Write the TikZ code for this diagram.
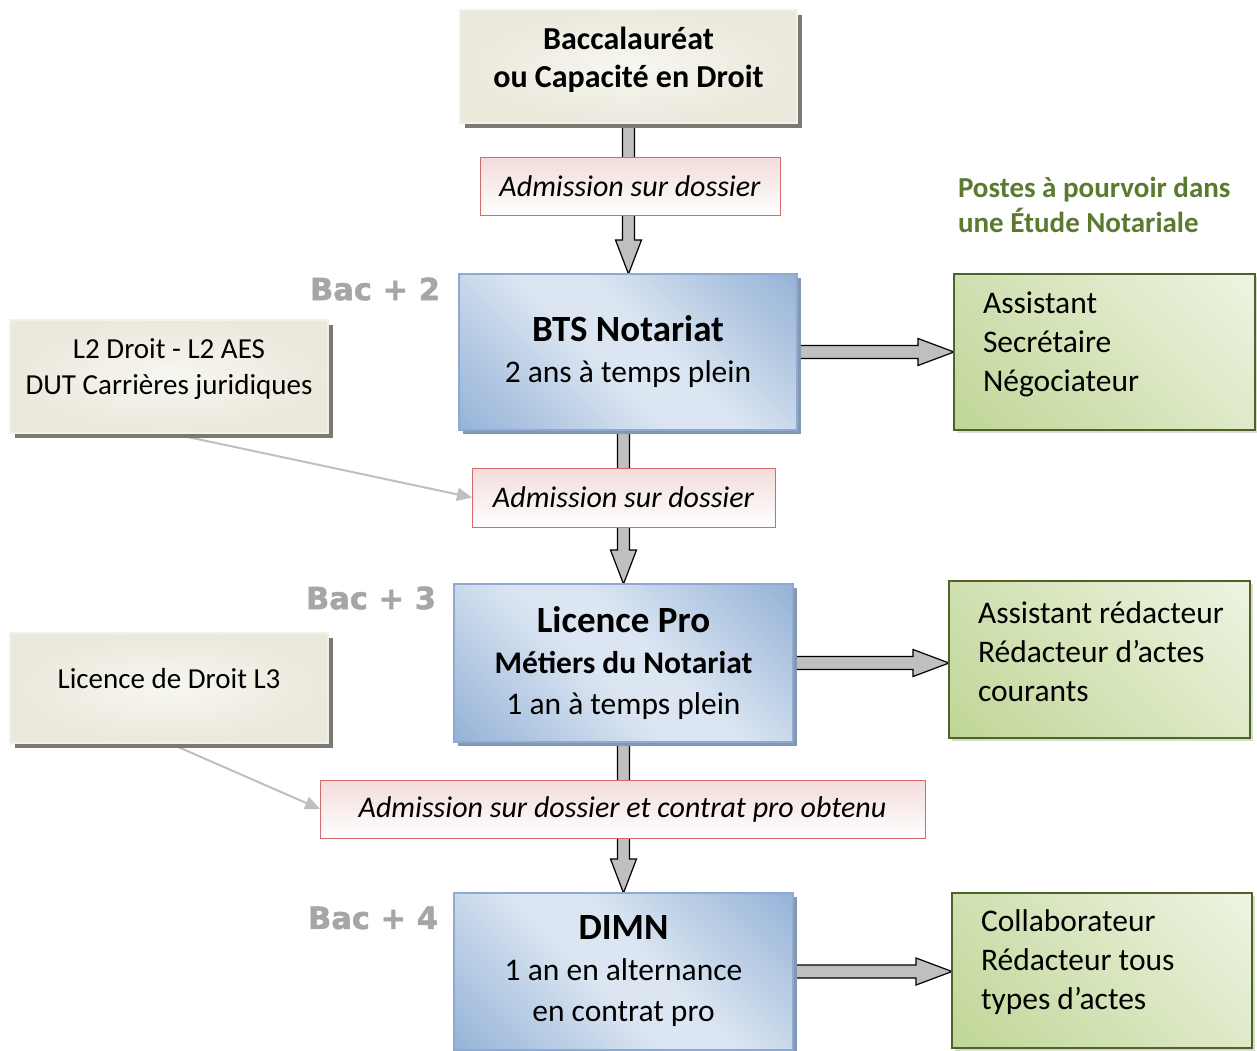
\documentclass[tikz,border=0pt]{standalone}
\usepackage{fontspec}
\setmainfont{Carlito}
\newfontfamily\bacfont[BoldFeatures={FakeBold=1.6}]{DejaVu Sans}
\usetikzlibrary{arrows.meta,calc,shadows,backgrounds}

\definecolor{beigelt}{HTML}{F7F6F0}
\definecolor{beigedk}{HTML}{EBE9DC}
\definecolor{beigeline}{HTML}{F3F2EA}
\definecolor{beigeshadow}{HTML}{7A7A72}
\definecolor{bluelt}{HTML}{DCE6F2}
\definecolor{bluedk}{HTML}{95B3D7}
\definecolor{blueline}{HTML}{8EAAD4}
\definecolor{blueshadow}{HTML}{8497B0}
\definecolor{greenlt}{HTML}{EEF4E2}
\definecolor{greendk}{HTML}{C0D697}
\definecolor{greenline}{HTML}{4F6228}
\definecolor{greenshadow}{HTML}{D9DCD0}
\definecolor{redlt}{HTML}{F2DCDB}
\definecolor{redline}{HTML}{D46A6A}
\definecolor{bacgray}{HTML}{A6A6A6}
\definecolor{postgreen}{HTML}{5B7A2F}
\definecolor{arrowgray}{HTML}{BFBFBF}

\pgfdeclarehorizontalshading{bluediag}{100bp}{color(0bp)=(bluedk); color(15bp)=(bluedk); color(45bp)=(bluelt); color(55bp)=(bluelt); color(85bp)=(bluedk); color(100bp)=(bluedk)}
\pgfdeclarehorizontalshading{greendiag}{100bp}{color(0bp)=(greendk); color(15bp)=(greendk); color(85bp)=(greenlt); color(100bp)=(greenlt)}

% block arrows between two anchors
\newcommand{\vblock}[2]{\filldraw[blockarrow] let \p1=(#1), \p2=(#2) in
  (\x1-6pt,\y1) -- (\x1+6pt,\y1) -- (\x1+6pt,\y2+34pt) -- (\x1+13pt,\y2+34pt) -- (\x1,\y2)
  -- (\x1-13pt,\y2+34pt) -- (\x1-6pt,\y2+34pt) -- cycle;}
\newcommand{\hblock}[2]{\filldraw[blockarrow] let \p1=(#1), \p2=(#2) in
  (\x1,\y1+6.5pt) -- (\x2-36pt,\y1+6.5pt) -- (\x2-36pt,\y1+13.5pt) -- (\x2,\y1)
  -- (\x2-36pt,\y1-13.5pt) -- (\x2-36pt,\y1-6.5pt) -- (\x1,\y1-6.5pt) -- cycle;}

\begin{document}
\begin{tikzpicture}[x=1pt,y=-1pt,
  every node/.style={inner sep=0pt, outer sep=0pt},
  beigebox/.style={draw=beigeline, line width=2pt, inner color=beigelt, outer color=beigedk,
    drop shadow={shadow xshift=5pt, shadow yshift=-5pt, fill=beigeshadow, opacity=1},
    align=center, text depth=19pt, font=\fontsize{29}{36}\selectfont},
  bluebox/.style={draw=blueline, line width=1.5pt, shading=bluediag, shading angle=45,
    drop shadow={shadow xshift=4pt, shadow yshift=-4pt, fill=blueshadow, opacity=1},
    align=center, font=\fontsize{31.5}{41}\selectfont},
  redbox/.style={draw=redline, line width=1pt, top color=redlt, bottom color=white,
    font=\fontsize{30}{36}\selectfont\itshape},
  greenbox/.style={draw=greenline, line width=2pt, shading=greendiag, shading angle=45,
    drop shadow={shadow xshift=3pt, shadow yshift=-3pt, fill=greenshadow, opacity=1}},
  greentext/.style={align=left, font=\fontsize{31.5}{39}\selectfont},
  baclabel/.style={text=bacgray, font=\bacfont\bfseries\fontsize{30.5}{34}\selectfont},
  posttitle/.style={text=postgreen, align=left, font=\bfseries\fontsize{29}{35}\selectfont},
  blockarrow/.style={fill=arrowgray, draw=black, line width=1.2pt},
  thinarrow/.style={draw=arrowgray, line width=2pt, -{Triangle[length=15pt,width=13pt]}}]

\useasboundingbox (0,0) rectangle (1257,1050);

% main track
\node[beigebox, minimum width=337pt, minimum height=113pt,
  font=\fontsize{32}{38}\selectfont\bfseries] (bac) at (628.5,66.5) {Baccalauréat\\ou Capacité en Droit};
\node[redbox, minimum width=300pt, minimum height=58pt] (adm1) at (630,186) {Admission sur dossier};
\node[bluebox, minimum width=338pt, minimum height=156pt] (bts) at (628,352)
  {{\fontsize{37}{42}\selectfont\bfseries BTS Notariat}\\2 ans à temps plein};
\node[redbox, minimum width=303pt, minimum height=59pt] (adm2) at (623.5,497.5) {Admission sur dossier};
\node[bluebox, minimum width=339pt, minimum height=158pt] (lp) at (623.5,663)
  {{\fontsize{37}{42}\selectfont\bfseries Licence Pro}\\{\bfseries Métiers du Notariat}\\1 an à temps plein};
\node[redbox, minimum width=605pt, minimum height=58pt] (adm3) at (622.5,809) {Admission sur dossier et contrat pro obtenu};
\node[bluebox, minimum width=339pt, minimum height=157pt] (dimn) at (623.5,971.5)
  {{\fontsize{37}{42}\selectfont\bfseries DIMN}\\1 an en alternance\\en contrat pro};

% levels
\node[baclabel, anchor=east] (bac2) at (440,289) {Bac + 2};
\node[baclabel, anchor=east] (bac3) at (436,598) {Bac + 3};
\node[baclabel, anchor=east] (bac4) at (438,918) {Bac + 4};

% side entries
\node[beigebox, minimum width=318pt, minimum height=113pt] (l2) at (169,376.5) {L2 Droit - L2 AES\\DUT Carrières juridiques};
\node[beigebox, minimum width=318pt, minimum height=110pt] (l3) at (169,688) {Licence de Droit L3};

% jobs
\node[posttitle, anchor=west] (postes) at (958,205) {Postes à pourvoir dans\\une Étude Notariale};
\node[greenbox, minimum width=301pt, minimum height=156pt] (g1) at (1104.5,352) {};
\node[greentext, anchor=west] (g1t) at ([xshift=29pt,yshift=8pt]g1.west) {Assistant\\Secrétaire\\Négociateur};
\node[greenbox, minimum width=301pt, minimum height=157pt] (g2) at (1099.5,659.5) {};
\node[greentext, anchor=west] (g2t) at ([xshift=29pt,yshift=8pt]g2.west) {Assistant rédacteur\\Rédacteur d’actes\\courants};
\node[greenbox, minimum width=300pt, minimum height=155pt] (g3) at (1102,970.5) {};
\node[greentext, anchor=west] (g3t) at ([xshift=29pt,yshift=8pt]g3.west) {Collaborateur\\Rédacteur tous\\types d’actes};

\begin{pgfonlayer}{background}
\fill[white] (0,0) rectangle (1257,1050);
\vblock{bac.south}{bts.north}
\vblock{bts.south -| lp.north}{lp.north}
\vblock{lp.south}{dimn.north}
\hblock{bts.east}{g1.west}
\hblock{lp.east}{g2.west}
\hblock{dimn.east}{g3.west}
\draw[thinarrow] (l2.south) -- (adm2.west);
\draw[thinarrow] (l3.south) -- (adm3.west);
\end{pgfonlayer}
\end{tikzpicture}
\end{document}
